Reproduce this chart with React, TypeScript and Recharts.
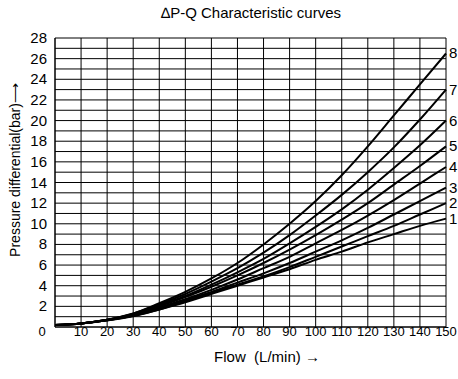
import React from "react";
import { LineChart, Line, XAxis, YAxis, CartesianGrid, LabelList } from "recharts";

const flow = [0, 10, 20, 30, 40, 50, 60, 70, 80, 90, 100, 110, 120, 130, 140, 150];

const curve1 = [0.2, 0.35, 0.65, 1.05, 1.7, 2.4, 3.2, 4.0, 4.8, 5.6, 6.5, 7.3, 8.2, 9.0, 9.8, 10.5];
const curve2 = [0.2, 0.35, 0.65, 1.1, 1.7, 2.5, 3.3, 4.1, 4.9, 5.8, 6.8, 7.8, 8.8, 9.8, 10.9, 12.0];
const curve3 = [0.2, 0.35, 0.65, 1.1, 1.8, 2.6, 3.4, 4.3, 5.2, 6.2, 7.3, 8.4, 9.6, 10.9, 12.2, 13.5];
const curve4 = [0.2, 0.35, 0.65, 1.15, 1.9, 2.7, 3.6, 4.6, 5.7, 6.8, 8.1, 9.4, 10.8, 12.3, 13.9, 15.5];
const curve5 = [0.2, 0.35, 0.7, 1.2, 2.0, 2.9, 3.9, 5.0, 6.2, 7.5, 8.9, 10.4, 12.0, 13.8, 15.6, 17.5];
const curve6 = [0.2, 0.35, 0.7, 1.25, 2.1, 3.0, 4.1, 5.3, 6.6, 8.1, 9.7, 11.4, 13.3, 15.4, 17.6, 20.0];
const curve7 = [0.2, 0.35, 0.7, 1.3, 2.2, 3.2, 4.4, 5.7, 7.2, 8.9, 10.8, 12.8, 15.0, 17.4, 20.1, 23.0];
const curve8 = [0.2, 0.35, 0.7, 1.3, 2.3, 3.4, 4.7, 6.2, 8.0, 10.0, 12.2, 14.7, 17.5, 20.5, 23.5, 26.5];

const curves = [curve1, curve2, curve3, curve4, curve5, curve6, curve7, curve8];
const curveNames = ["1", "2", "3", "4", "5", "6", "7", "8"];

const xTicks = [0, 10, 20, 30, 40, 50, 60, 70, 80, 90, 100, 110, 120, 130, 140, 150];
const yTicks = [2, 4, 6, 8, 10, 12, 14, 16, 18, 20, 22, 24, 26, 28];
const yGrid = [0, 1, 2, 3, 4, 5, 6, 7, 8, 9, 10, 11, 12, 13, 14, 15, 16, 17, 18, 19, 20, 21, 22, 23, 24, 25, 26, 27, 28];

const data = flow.map((q, i) => {
  const row: Record<string, number> = { q };
  curves.forEach((c, k) => {
    row["c" + curveNames[k]] = c[i];
  });
  return row;
});

const font = "'Liberation Sans', Arial, sans-serif";

const XTick = (props: any) => {
  const { x, y, payload } = props;
  const dx = payload.value === 0 ? -13 : 0;
  return (
    <text x={x + dx} y={y + 9} textAnchor="middle" fontSize={13} fill="#000" fontFamily={font}>
      {payload.value}
    </text>
  );
};

const YTick = (props: any) => {
  const { x, y, payload } = props;
  return (
    <text x={x} y={y + 5} textAnchor="end" fontSize={15} fill="#000" fontFamily={font}>
      {payload.value}
    </text>
  );
};

const endLabel = (name: string) => (props: any) => {
  const { x, y, index } = props;
  if (index !== flow.length - 1) return null;
  return (
    <text x={x + 3} y={y + 5} fontSize={15} fill="#000" fontFamily={font}>
      {name}
    </text>
  );
};

export default function App() {
  return (
    <div style={{ position: "absolute", left: 0, top: 0, width: 458, height: 379, background: "#fff", fontFamily: font, overflow: "hidden" }}>
      <div style={{ position: "absolute", left: 0, top: 4, width: 502, textAlign: "center", fontSize: 15, lineHeight: "17px" }}>
        ∆P-Q Characteristic curves
      </div>
      <div
        style={{
          position: "absolute",
          left: 15,
          top: 170,
          transform: "translate(-50%, -50%) rotate(-90deg)",
          whiteSpace: "nowrap",
          fontSize: 14,
        }}
      >
        Pressure differential(bar)⟶
      </div>
      <div style={{ position: "absolute", left: 267, top: 348, transform: "translateX(-50%)", whiteSpace: "nowrap", fontSize: 15 }}>
        Flow&nbsp;&nbsp;(L/min) →
      </div>
      <LineChart
        width={458}
        height={379}
        data={data}
        margin={{ top: 38, right: 12, bottom: 22, left: 25 }}
        style={{ overflow: "visible" }}
      >
        <CartesianGrid stroke="#000" strokeWidth={1} horizontalValues={yGrid} verticalValues={xTicks} />
        <XAxis
          dataKey="q"
          type="number"
          domain={[0, 150]}
          ticks={xTicks}
          interval={0}
          tick={<XTick />}
          tickLine={false}
          tickSize={0}
          tickMargin={0}
          axisLine={{ stroke: "#000" }}
          height={30}
        />
        <YAxis
          type="number"
          domain={[0, 28]}
          ticks={yTicks}
          interval={0}
          tick={<YTick />}
          tickLine={false}
          tickSize={0}
          tickMargin={8}
          axisLine={{ stroke: "#000" }}
          width={30}
        />
        {curveNames.map((n) => (
          <Line
            key={n}
            type="monotone"
            dataKey={"c" + n}
            stroke="#000"
            strokeWidth={2}
            dot={false}
            isAnimationActive={false}
          >
            <LabelList dataKey={"c" + n} content={endLabel(n)} />
          </Line>
        ))}
      </LineChart>
    </div>
  );
}
